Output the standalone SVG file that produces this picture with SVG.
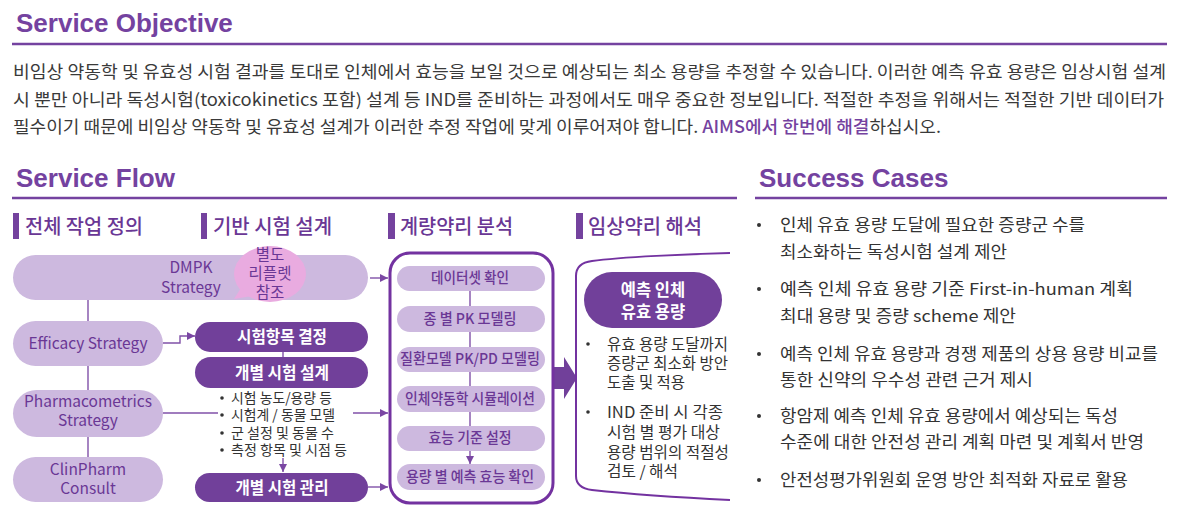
<svg xmlns="http://www.w3.org/2000/svg" width="1179" height="508" viewBox="0 0 1179 508">
<defs>
<style>
.ttl{font-family:"Liberation Sans",Arial,sans-serif;font-weight:bold;font-size:26px;fill:#7442a0}
.kr{font-family:"Noto Sans CJK KR","Noto Sans",sans-serif}
.body{font-size:17px;fill:#3a3a3a}
.hl{fill:#7442a0;font-weight:500}
.hdr{font-size:20px;fill:#6a3795;font-weight:500}
.bar{fill:#74429e}
.lt{fill:#cdb9df}
.dk{fill:#71409a}
.ptxt{fill:#6a3795;font-size:15.5px;text-anchor:middle}
.wtxt{fill:#ffffff;font-weight:bold;font-size:16.5px;text-anchor:middle}
.mtxt{fill:#6a3795;font-size:14.5px;text-anchor:middle;font-weight:500}
.btxt{fill:#333333;font-size:14px}
.stxt{fill:#333333;font-size:15.5px}
.ctxt{fill:#333333;font-size:16.5px}
.con{fill:none;stroke:#8051a8;stroke-width:1.4}
.rule{stroke:#7442a0;stroke-width:2.5}
</style>
<marker id="ah" viewBox="0 0 10 10" refX="10" refY="5" markerWidth="9" markerHeight="8" markerUnits="userSpaceOnUse" orient="auto">
<path d="M0,0 L10,5 L0,10 z" fill="#7a47a3"/>
</marker>
</defs>
<rect width="1179" height="508" fill="#ffffff"/>

<!-- Service Objective -->
<g id="objective">
<text class="ttl" x="16" y="32">Service Objective</text>
<line class="rule" x1="12" y1="44" x2="1167" y2="44"/>
<text class="kr body" x="13" y="78" textLength="1153" lengthAdjust="spacingAndGlyphs">비임상 약동학 및 유효성 시험 결과를 토대로 인체에서 효능을 보일 것으로 예상되는 최소 용량을 추정할 수 있습니다. 이러한 예측 유효 용량은 임상시험 설계</text>
<text class="kr body" x="13" y="106" textLength="1151" lengthAdjust="spacingAndGlyphs">시 뿐만 아니라 독성시험(toxicokinetics 포함) 설계 등 IND를 준비하는 과정에서도 매우 중요한 정보입니다. 적절한 추정을 위해서는 적절한 기반 데이터가</text>
<text class="kr body" x="13" y="133" textLength="928" lengthAdjust="spacingAndGlyphs">필수이기 때문에 비임상 약동학 및 유효성 설계가 이러한 추정 작업에 맞게 이루어져야 합니다. <tspan class="hl">AIMS에서 한번에 해결</tspan>하십시오.</text>
</g>

<!-- Service Flow title -->
<g id="flow-title">
<text class="ttl" x="16" y="187">Service Flow</text>
<line class="rule" x1="12" y1="198" x2="737" y2="198"/>
</g>

<!-- Success Cases title -->
<g id="cases-title">
<text class="ttl" x="759" y="187">Success Cases</text>
<line class="rule" x1="755" y1="198" x2="1167" y2="198"/>
</g>

<!-- Section headers -->
<g id="headers">
<rect class="bar" x="13" y="213" width="6" height="26"/>
<text class="kr hdr" x="25" y="234" textLength="118" lengthAdjust="spacingAndGlyphs">전체 작업 정의</text>
<rect class="bar" x="201" y="213" width="6" height="26"/>
<text class="kr hdr" x="213" y="234" textLength="119" lengthAdjust="spacingAndGlyphs">기반 시험 설계</text>
<rect class="bar" x="388" y="213" width="7" height="26"/>
<text class="kr hdr" x="400" y="234" textLength="113" lengthAdjust="spacingAndGlyphs">계량약리 분석</text>
<rect class="bar" x="576" y="213" width="7" height="26"/>
<text class="kr hdr" x="588" y="234" textLength="114" lengthAdjust="spacingAndGlyphs">임상약리 해석</text>
</g>

<!-- Connectors -->
<g id="connectors">
<line class="con" x1="88" y1="300" x2="88" y2="457"/>
<path class="con" d="M163,343 H180 V336 H195" marker-end="url(#ah)"/>
<line class="con" x1="163" y1="413" x2="218" y2="413"/>
<line class="con" x1="283" y1="352" x2="283" y2="357"/>
<line class="con" x1="283" y1="458" x2="283" y2="472" marker-end="url(#ah)"/>
<line class="con" x1="370" y1="278" x2="388" y2="278" marker-end="url(#ah)"/>
<line class="con" x1="353" y1="413" x2="388" y2="413" marker-end="url(#ah)"/>
<line class="con" x1="368" y1="487" x2="388" y2="487" marker-end="url(#ah)"/>
<polygon fill="#71409a" points="553,367 564,367 564,357 577,378 564,399 564,389 553,389"/>
</g>

<!-- Column 1 -->
<g id="dmpk">
<rect class="lt" x="13" y="255" width="355" height="45" rx="22.5"/>
<text class="kr ptxt" x="191" y="273" font-size="16.5">DMPK</text>
<text class="kr ptxt" x="191" y="293" font-size="16.5">Strategy</text>
</g>
<g id="bubble">
<ellipse cx="270" cy="274" rx="36" ry="28" fill="#e9abe0"/>
<polygon points="241,288 234,299 252,296" fill="#e9abe0"/>
<text class="kr ptxt" x="270" y="260" font-size="13.5">별도</text>
<text class="kr ptxt" x="270" y="279" font-size="13.5">리플렛</text>
<text class="kr ptxt" x="270" y="298" font-size="13.5">참조</text>
</g>
<g id="efficacy">
<rect class="lt" x="13" y="321" width="150" height="45" rx="22.5"/>
<text class="kr ptxt" x="88" y="349" font-size="15">Efficacy Strategy</text>
</g>
<g id="pharmacometrics">
<rect class="lt" x="13" y="390" width="150" height="47" rx="23.5"/>
<text class="kr ptxt" x="88" y="407" font-size="14.5">Pharmacometrics</text>
<text class="kr ptxt" x="88" y="426" font-size="14.5">Strategy</text>
</g>
<g id="clinpharm">
<rect class="lt" x="13" y="457" width="150" height="45" rx="22.5"/>
<text class="kr ptxt" x="88" y="475" font-size="14.5">ClinPharm</text>
<text class="kr ptxt" x="88" y="494" font-size="14.5">Consult</text>
</g>

<!-- Column 2 -->
<g id="test-items">
<rect class="dk" x="195" y="322" width="173" height="30" rx="15"/>
<text class="kr wtxt" x="282" y="343" textLength="90" lengthAdjust="spacingAndGlyphs">시험항목 결정</text>
</g>
<g id="test-design">
<rect class="dk" x="195" y="357" width="173" height="31" rx="15.5"/>
<text class="kr wtxt" x="282" y="379" textLength="94" lengthAdjust="spacingAndGlyphs">개별 시험 설계</text>
<g class="kr btxt">
<circle cx="222" cy="398" r="1.8" fill="#333"/>
<text x="231" y="403" textLength="101" lengthAdjust="spacingAndGlyphs">시험 농도/용량 등</text>
<circle cx="222" cy="415" r="1.8" fill="#333"/>
<text x="231" y="420" textLength="104" lengthAdjust="spacingAndGlyphs">시험계 / 동물 모델</text>
<circle cx="222" cy="433" r="1.8" fill="#333"/>
<text x="231" y="438" textLength="103" lengthAdjust="spacingAndGlyphs">군 설정 및 동물 수</text>
<circle cx="222" cy="450" r="1.8" fill="#333"/>
<text x="231" y="455" textLength="116" lengthAdjust="spacingAndGlyphs">측정 항목 및 시점 등</text>
</g>
</g>
<g id="test-manage">
<rect class="dk" x="195" y="473" width="173" height="29" rx="14.5"/>
<text class="kr wtxt" x="282" y="494" textLength="93" lengthAdjust="spacingAndGlyphs">개별 시험 관리</text>
</g>

<!-- Column 3 -->
<g id="analysis">
<rect x="390" y="253" width="163" height="250" rx="20" fill="#ffffff" stroke="#7332a0" stroke-width="3"/>
<line class="con" x1="470" y1="291" x2="470" y2="464" marker-end="url(#ah)"/>
<g id="dataset"><rect class="lt" x="397" y="266" width="148" height="25" rx="12.5"/><text class="kr mtxt" x="470" y="283" textLength="78" lengthAdjust="spacingAndGlyphs">데이터셋 확인</text></g>
<g id="species-pk"><rect class="lt" x="397" y="306" width="148" height="26" rx="13"/><text class="kr mtxt" x="470" y="324" textLength="93" lengthAdjust="spacingAndGlyphs">종 별 PK 모델링</text></g>
<g id="disease-pkpd"><rect class="lt" x="397" y="347" width="148" height="25" rx="12.5"/><text class="kr mtxt" x="470" y="364" textLength="140" lengthAdjust="spacingAndGlyphs">질환모델 PK/PD 모델링</text></g>
<g id="human-pk"><rect class="lt" x="397" y="386" width="148" height="26" rx="13"/><text class="kr mtxt" x="470" y="404" textLength="130" lengthAdjust="spacingAndGlyphs">인체약동학 시뮬레이션</text></g>
<g id="efficacy-criteria"><rect class="lt" x="397" y="426" width="148" height="25" rx="12.5"/><text class="kr mtxt" x="470" y="443" textLength="83" lengthAdjust="spacingAndGlyphs">효능 기준 설정</text></g>
<g id="dose-efficacy"><rect class="lt" x="397" y="464" width="148" height="26" rx="13"/><text class="kr mtxt" x="470" y="482" textLength="128" lengthAdjust="spacingAndGlyphs">용량 별 예측 효능 확인</text></g>
</g>

<!-- Column 4 -->
<g id="clinical">
<path d="M730,253 C690,254 620,257 592,261 Q576,263 576,276 L576,476 Q576,488 592,490 C620,493 690,498 730,500" fill="none" stroke="#7332a0" stroke-width="2"/>
<rect class="dk" x="584" y="272" width="138" height="56" rx="28"/>
<text class="kr wtxt" x="653" y="296" font-size="17">예측 인체</text>
<text class="kr wtxt" x="653" y="318" font-size="17">유효 용량</text>
<g class="kr stxt">
<circle cx="588" cy="344" r="1.8" fill="#333"/>
<text x="607" y="350" textLength="121" lengthAdjust="spacingAndGlyphs">유효 용량 도달까지</text>
<text x="607" y="369" textLength="121" lengthAdjust="spacingAndGlyphs">증량군 최소화 방안</text>
<text x="607" y="388" textLength="78" lengthAdjust="spacingAndGlyphs">도출 및 적용</text>
<circle cx="588" cy="412" r="1.8" fill="#333"/>
<text x="607" y="418" textLength="116" lengthAdjust="spacingAndGlyphs">IND 준비 시 각종</text>
<text x="607" y="438" textLength="113" lengthAdjust="spacingAndGlyphs">시험 별 평가 대상</text>
<text x="607" y="458" textLength="122" lengthAdjust="spacingAndGlyphs">용량 범위의 적절성</text>
<text x="607" y="477" textLength="71" lengthAdjust="spacingAndGlyphs">검토 / 해석</text>
</g>
</g>

<!-- Success cases list -->
<g id="cases" class="kr ctxt">
<circle cx="759" cy="225" r="2" fill="#333"/>
<text x="780" y="231" textLength="305" lengthAdjust="spacingAndGlyphs">인체 유효 용량 도달에 필요한 증량군 수를</text>
<text x="780" y="258" textLength="227" lengthAdjust="spacingAndGlyphs">최소화하는 독성시험 설계 제안</text>
<circle cx="759" cy="289" r="2" fill="#333"/>
<text x="780" y="295" textLength="353" lengthAdjust="spacingAndGlyphs">예측 인체 유효 용량 기준 First-in-human 계획</text>
<text x="780" y="322" textLength="236" lengthAdjust="spacingAndGlyphs">최대 용량 및 증량 scheme 제안</text>
<circle cx="759" cy="354" r="2" fill="#333"/>
<text x="780" y="360" textLength="378" lengthAdjust="spacingAndGlyphs">예측 인체 유효 용량과 경쟁 제품의 상용 용량 비교를</text>
<text x="780" y="386" textLength="253" lengthAdjust="spacingAndGlyphs">통한 신약의 우수성 관련 근거 제시</text>
<circle cx="759" cy="416" r="2" fill="#333"/>
<text x="780" y="422" textLength="338" lengthAdjust="spacingAndGlyphs">항암제 예측 인체 유효 용량에서 예상되는 독성</text>
<text x="780" y="448" textLength="364" lengthAdjust="spacingAndGlyphs">수준에 대한 안전성 관리 계획 마련 및 계획서 반영</text>
<circle cx="759" cy="480" r="2" fill="#333"/>
<text x="780" y="486" textLength="348" lengthAdjust="spacingAndGlyphs">안전성평가위원회 운영 방안 최적화 자료로 활용</text>
</g>
</svg>
